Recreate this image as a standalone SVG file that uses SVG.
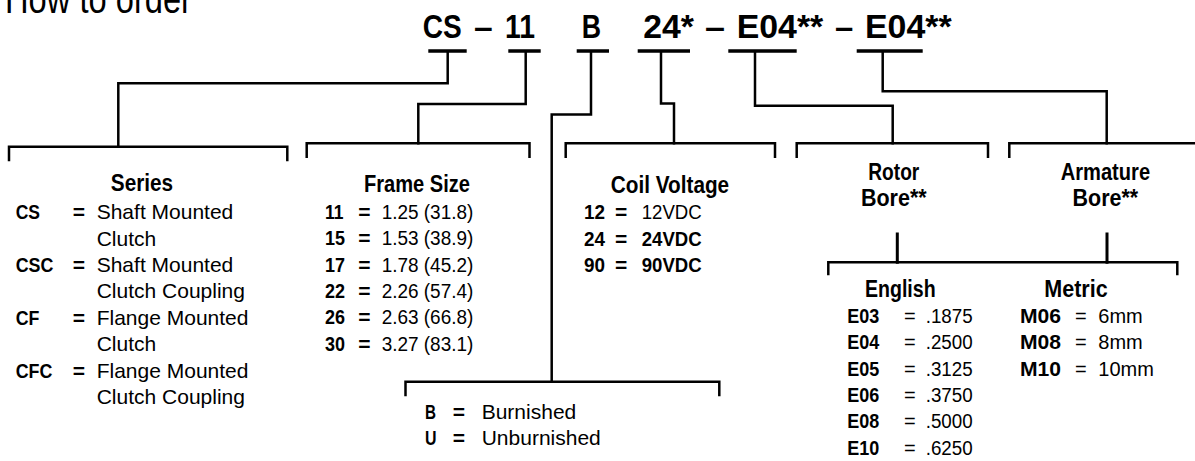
<svg xmlns="http://www.w3.org/2000/svg" width="1195" height="461" viewBox="0 0 1195 461">
<style>
text{font-family:"Liberation Sans",Arial,sans-serif;fill:#000}
.t{font-size:40px}
.code{font-size:34px;font-weight:bold}
.h{font-size:24px;font-weight:bold;text-anchor:middle}
.b{font-size:21px;font-weight:bold}
.r{font-size:20px}
.r21{font-size:21px}
.ul{stroke:#000;stroke-width:3.5;fill:none}
.c{stroke:#000;stroke-width:2.5;fill:none;stroke-linejoin:miter;stroke-linecap:square}
</style>
<rect width="1195" height="461" fill="#fff"/>
<g id="title"><text class="t" x="5" y="13" textLength="187" lengthAdjust="spacingAndGlyphs">How to order</text></g>
<g id="code">
<text class="code" x="422.7" y="38.3" textLength="39" lengthAdjust="spacingAndGlyphs">CS</text>
<text class="code" x="474" y="38.3" textLength="18.7" lengthAdjust="spacingAndGlyphs">–</text>
<text class="code" x="505" y="38.3" textLength="30" lengthAdjust="spacingAndGlyphs">11</text>
<text class="code" x="581.7" y="38.3" textLength="19.3" lengthAdjust="spacingAndGlyphs">B</text>
<text class="code" x="643.3" y="38.3" textLength="50.7" lengthAdjust="spacingAndGlyphs">24*</text>
<text class="code" x="705" y="38.3" textLength="20" lengthAdjust="spacingAndGlyphs">–</text>
<text class="code" x="736.7" y="38.3" textLength="86.6" lengthAdjust="spacingAndGlyphs">E04**</text>
<text class="code" x="835" y="38.3" textLength="18.3" lengthAdjust="spacingAndGlyphs">–</text>
<text class="code" x="865" y="38.3" textLength="86.7" lengthAdjust="spacingAndGlyphs">E04**</text>
<path class="ul" d="M428.3,51H466.7M508.3,51H540.7M576.7,51H609M637.7,51H690M728.3,51H796.7M856.7,51H922.7"/>
</g>
<g id="connectors">
<path class="c" d="M447.7,52V83.3H118.3V146.7"/>
<path class="c" d="M9,160V146.7H287.3V160"/>
<path class="c" d="M525.7,52V104H418.3V143.3"/>
<path class="c" d="M306.7,156.7V143.3H529.5V156.7"/>
<path class="c" d="M591,52V114.5H551.7V381.7"/>
<path class="c" d="M405.5,395V381.7H719.3V395"/>
<path class="c" d="M661,52V103.5H674V143.3"/>
<path class="c" d="M565.7,156.7V143.3H775V156.7"/>
<path class="c" d="M755,52V105.7H892.7V143.3"/>
<path class="c" d="M796.7,156.7V143.3H988V156.7"/>
<path class="c" d="M882.7,52V91.2H1106.7V143.3"/>
<path class="c" d="M1009.3,156.7V143.3H1196"/>
<path class="c" style="stroke-width:3" d="M897.3,234V262.3M1107,234V262.3"/>
<path class="c" d="M828.3,274V262.3H1177.3V274"/>
</g>
<g id="series">
<text class="h" x="142" y="190.7" textLength="62.3" lengthAdjust="spacingAndGlyphs">Series</text>
<text class="b" x="15.7" y="219" textLength="24.3" lengthAdjust="spacingAndGlyphs">CS</text><text class="b" x="72.7" y="219">=</text><text class="r21" x="96.7" y="219">Shaft Mounted</text>
<text class="r21" x="96.7" y="245.5">Clutch</text>
<text class="b" x="15.7" y="271.7" textLength="37.7" lengthAdjust="spacingAndGlyphs">CSC</text><text class="b" x="72.7" y="271.7">=</text><text class="r21" x="96.7" y="271.7">Shaft Mounted</text>
<text class="r21" x="96.7" y="298">Clutch Coupling</text>
<text class="b" x="15.7" y="324.5" textLength="23.7" lengthAdjust="spacingAndGlyphs">CF</text><text class="b" x="72.7" y="324.5">=</text><text class="r21" x="96.7" y="324.5">Flange Mounted</text>
<text class="r21" x="96.7" y="351">Clutch</text>
<text class="b" x="15.7" y="377.5" textLength="36.7" lengthAdjust="spacingAndGlyphs">CFC</text><text class="b" x="72.7" y="377.5">=</text><text class="r21" x="96.7" y="377.5">Flange Mounted</text>
<text class="r21" x="96.7" y="403.5">Clutch Coupling</text>
</g>
<g id="frame-size">
<text class="h" x="417" y="191.7" textLength="106" lengthAdjust="spacingAndGlyphs">Frame Size</text>
<text class="b" x="325" y="219" textLength="18.5" lengthAdjust="spacingAndGlyphs">11</text><text class="b" x="358.3" y="219">=</text><text class="r" x="381.7" y="219" textLength="91.6" lengthAdjust="spacingAndGlyphs">1.25 (31.8)</text>
<text class="b" x="325" y="245.3" textLength="20" lengthAdjust="spacingAndGlyphs">15</text><text class="b" x="358.3" y="245.3">=</text><text class="r" x="381.7" y="245.3" textLength="91.6" lengthAdjust="spacingAndGlyphs">1.53 (38.9)</text>
<text class="b" x="325" y="271.7" textLength="20" lengthAdjust="spacingAndGlyphs">17</text><text class="b" x="358.3" y="271.7">=</text><text class="r" x="381.7" y="271.7" textLength="91.6" lengthAdjust="spacingAndGlyphs">1.78 (45.2)</text>
<text class="b" x="325" y="298" textLength="20" lengthAdjust="spacingAndGlyphs">22</text><text class="b" x="358.3" y="298">=</text><text class="r" x="381.7" y="298" textLength="91.6" lengthAdjust="spacingAndGlyphs">2.26 (57.4)</text>
<text class="b" x="325" y="324.4" textLength="20" lengthAdjust="spacingAndGlyphs">26</text><text class="b" x="358.3" y="324.4">=</text><text class="r" x="381.7" y="324.4" textLength="91.6" lengthAdjust="spacingAndGlyphs">2.63 (66.8)</text>
<text class="b" x="325" y="351" textLength="20" lengthAdjust="spacingAndGlyphs">30</text><text class="b" x="358.3" y="351">=</text><text class="r" x="381.7" y="351" textLength="91.6" lengthAdjust="spacingAndGlyphs">3.27 (83.1)</text>
</g>
<g id="finish">
<text class="b" x="425" y="419" textLength="11" lengthAdjust="spacingAndGlyphs">B</text><text class="b" x="452.7" y="419">=</text><text class="r21" x="481.7" y="419">Burnished</text>
<text class="b" x="425" y="445" textLength="11.5" lengthAdjust="spacingAndGlyphs">U</text><text class="b" x="452.7" y="445">=</text><text class="r21" x="481.7" y="445">Unburnished</text>
</g>
<g id="coil-voltage">
<text class="h" x="670" y="193.3" textLength="118.3" lengthAdjust="spacingAndGlyphs">Coil Voltage</text>
<text class="b" x="584" y="219.3" textLength="21" lengthAdjust="spacingAndGlyphs">12</text><text class="b" x="615" y="219.3">=</text><text class="r" x="641.7" y="219.3" textLength="60" lengthAdjust="spacingAndGlyphs">12VDC</text>
<text class="b" x="584" y="245.7" textLength="21" lengthAdjust="spacingAndGlyphs">24</text><text class="b" x="615" y="245.7">=</text><text class="b" x="641.7" y="245.7" textLength="60" lengthAdjust="spacingAndGlyphs">24VDC</text>
<text class="b" x="584" y="272.3" textLength="21" lengthAdjust="spacingAndGlyphs">90</text><text class="b" x="615" y="272.3">=</text><text class="b" x="641.7" y="272.3" textLength="60" lengthAdjust="spacingAndGlyphs">90VDC</text>
</g>
<g id="rotor-bore">
<text class="h" x="893.8" y="180" textLength="51" lengthAdjust="spacingAndGlyphs">Rotor</text>
<text class="h" x="893.8" y="206" textLength="65.7" lengthAdjust="spacingAndGlyphs">Bore**</text>
</g>
<g id="armature-bore">
<text class="h" x="1105.4" y="179.5" textLength="89.3" lengthAdjust="spacingAndGlyphs">Armature</text>
<text class="h" x="1105.4" y="206" textLength="65.6" lengthAdjust="spacingAndGlyphs">Bore**</text>
</g>
<g id="english">
<text class="h" x="900.3" y="296.7" textLength="70.7" lengthAdjust="spacingAndGlyphs">English</text>
<text class="b" x="847.3" y="322.7" textLength="32" lengthAdjust="spacingAndGlyphs">E03</text><text class="r" x="904" y="322.7">=</text><text class="r" x="925.7" y="322.7" textLength="47" lengthAdjust="spacingAndGlyphs">.1875</text>
<text class="b" x="847.3" y="349.3" textLength="32" lengthAdjust="spacingAndGlyphs">E04</text><text class="r" x="904" y="349.3">=</text><text class="r" x="925.7" y="349.3" textLength="47" lengthAdjust="spacingAndGlyphs">.2500</text>
<text class="b" x="847.3" y="375.7" textLength="32" lengthAdjust="spacingAndGlyphs">E05</text><text class="r" x="904" y="375.7">=</text><text class="r" x="925.7" y="375.7" textLength="47" lengthAdjust="spacingAndGlyphs">.3125</text>
<text class="b" x="847.3" y="401.7" textLength="32" lengthAdjust="spacingAndGlyphs">E06</text><text class="r" x="904" y="401.7">=</text><text class="r" x="925.7" y="401.7" textLength="47" lengthAdjust="spacingAndGlyphs">.3750</text>
<text class="b" x="847.3" y="428.3" textLength="32" lengthAdjust="spacingAndGlyphs">E08</text><text class="r" x="904" y="428.3">=</text><text class="r" x="925.7" y="428.3" textLength="47" lengthAdjust="spacingAndGlyphs">.5000</text>
<text class="b" x="847.3" y="455" textLength="32" lengthAdjust="spacingAndGlyphs">E10</text><text class="r" x="904" y="455">=</text><text class="r" x="925.7" y="455" textLength="47" lengthAdjust="spacingAndGlyphs">.6250</text>
</g>
<g id="metric">
<text class="h" x="1076" y="296.7" textLength="63.4" lengthAdjust="spacingAndGlyphs">Metric</text>
<text class="b" x="1020" y="322.7" textLength="41" lengthAdjust="spacingAndGlyphs">M06</text><text class="r" x="1075" y="322.7">=</text><text class="r" x="1098.3" y="322.7">6mm</text>
<text class="b" x="1020" y="349.3" textLength="41" lengthAdjust="spacingAndGlyphs">M08</text><text class="r" x="1075" y="349.3">=</text><text class="r" x="1098.3" y="349.3">8mm</text>
<text class="b" x="1020" y="375.7" textLength="41" lengthAdjust="spacingAndGlyphs">M10</text><text class="r" x="1075" y="375.7">=</text><text class="r" x="1098.3" y="375.7">10mm</text>
</g>
</svg>
